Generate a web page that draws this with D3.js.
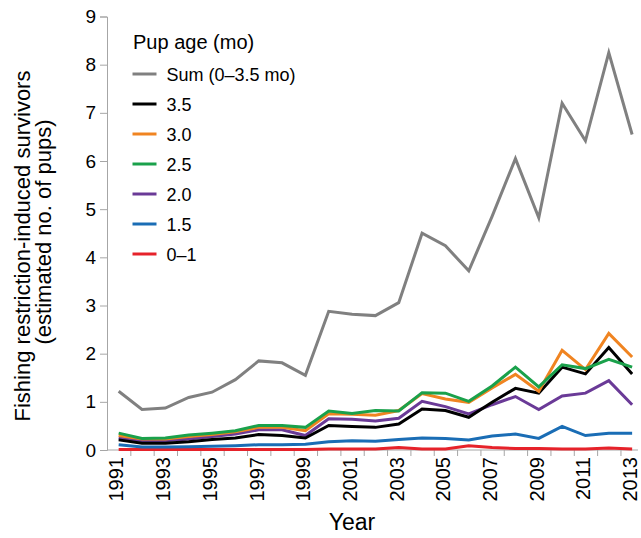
<!DOCTYPE html>
<html>
<head>
<meta charset="utf-8">
<script src="https://cdn.jsdelivr.net/npm/d3@7"></script>
<style>
  html, body { margin: 0; padding: 0; background: #fff; }
  svg { display: block; font-family: "Liberation Sans", Arial, Helvetica, sans-serif; }
</style>
</head>
<body>
<svg id="chart" width="641" height="538"></svg>
<script>
// Years on the x axis
const years = d3.range(1991, 2014);

// Estimated survivors per year, by pup age class
const sumAll  = [1.22, 0.84, 0.87, 1.09, 1.20, 1.46, 1.85, 1.81, 1.55, 2.88, 2.82, 2.79, 3.06, 4.50, 4.24, 3.72, 4.85, 6.05, 4.82, 7.20, 6.42, 8.25, 6.55];
const age35   = [0.21, 0.14, 0.14, 0.17, 0.22, 0.25, 0.32, 0.30, 0.25, 0.51, 0.49, 0.47, 0.54, 0.85, 0.82, 0.68, 0.99, 1.28, 1.18, 1.72, 1.58, 2.13, 1.58];
const age30   = [0.30, 0.23, 0.23, 0.28, 0.32, 0.38, 0.47, 0.47, 0.40, 0.75, 0.74, 0.72, 0.82, 1.17, 1.06, 0.99, 1.29, 1.57, 1.22, 2.07, 1.67, 2.42, 1.93];
const age25   = [0.35, 0.24, 0.25, 0.31, 0.35, 0.40, 0.51, 0.51, 0.47, 0.81, 0.76, 0.82, 0.81, 1.19, 1.18, 1.01, 1.33, 1.72, 1.31, 1.77, 1.69, 1.88, 1.72];
const age20   = [0.25, 0.19, 0.19, 0.23, 0.28, 0.33, 0.42, 0.42, 0.30, 0.65, 0.64, 0.60, 0.66, 1.01, 0.90, 0.75, 0.94, 1.11, 0.84, 1.12, 1.18, 1.44, 0.94];
const age15   = [0.11, 0.06, 0.06, 0.07, 0.08, 0.09, 0.11, 0.11, 0.12, 0.17, 0.19, 0.18, 0.22, 0.25, 0.24, 0.21, 0.29, 0.33, 0.24, 0.49, 0.30, 0.35, 0.35];
const age01   = [0.01, 0.01, 0.01, 0.01, 0.01, 0.01, 0.01, 0.01, 0.01, 0.02, 0.02, 0.02, 0.05, 0.02, 0.02, 0.09, 0.05, 0.03, 0.03, 0.02, 0.02, 0.04, 0.02];

// Axis ticks and labels
const yTicks = [0, 1, 2, 3, 4, 5, 6, 7, 8, 9];
const yearLabels = [1991, 1993, 1995, 1997, 1999, 2001, 2003, 2005, 2007, 2009, 2011, 2013];

// Legend entries (top to bottom) and their line colours
const seriesNames  = ["Sum (0\u20133.5 mo)", "3.5", "3.0", "2.5", "2.0", "1.5", "0\u20131"];
const seriesValues = [sumAll, age35, age30, age25, age20, age15, age01];
const seriesColors = ["#808080", "#000000", "#f08421", "#1aa14b", "#6a3a97", "#1a6db5", "#e6222a"];
// Drawing order of the lines (indexes into the arrays above)
const drawOrder = [0, 6, 5, 4, 1, 2, 3];

const svg = d3.select("#chart");
const axisColor = "#a6a6a6";

const x = d3.scaleLinear().domain([1990.5, 2013.5]).range([107, 643.8]);
const y = d3.scaleLinear().domain([0, 9]).range([450, 16.5]);

// Y axis
const yAxis = svg.append("g")
  .attr("transform", "translate(107,0)")
  .call(d3.axisLeft(y).tickValues(yTicks).tickSize(7).tickPadding(4).tickFormat(d3.format("d")));
yAxis.select(".domain").attr("stroke", axisColor).attr("stroke-width", 1);
yAxis.selectAll(".tick line").attr("stroke", axisColor);
yAxis.selectAll(".tick text")
  .attr("fill", "#000")
  .style("font-size", "19px")
  .style("font-family", "'Liberation Sans', Arial, sans-serif");

// X axis: ticks sit between years, labels at every other year
const xTickVals = d3.range(1991.5, 2013, 1);
const xAxis = svg.append("g")
  .attr("transform", "translate(0,450)")
  .call(d3.axisBottom(x).tickValues(xTickVals).tickSize(6).tickFormat(""));
xAxis.select(".domain").remove();
xAxis.selectAll(".tick line").attr("stroke", axisColor);
svg.append("line")
  .attr("x1", 107).attr("x2", x(2013.25))
  .attr("y1", 450).attr("y2", 450)
  .attr("stroke", axisColor).attr("stroke-width", 1);

svg.append("g").selectAll("text")
  .data(yearLabels)
  .join("text")
  .attr("transform", d => `translate(${x(d) + 4.8},457) rotate(-90)`)
  .attr("text-anchor", "end")
  .style("font-size", "20px")
  .attr("fill", "#000")
  .text(d => d);

// Axis titles
svg.append("text")
  .attr("transform", "translate(29.5,246) rotate(-90)")
  .attr("text-anchor", "middle")
  .style("font-size", "22px")
  .attr("fill", "#000")
  .text("Fishing restriction-induced survivors");
svg.append("text")
  .attr("transform", "translate(51,232) rotate(-90)")
  .attr("text-anchor", "middle")
  .style("font-size", "22px")
  .attr("fill", "#000")
  .text("(estimated no. of pups)");
svg.append("text")
  .attr("x", 352).attr("y", 530)
  .attr("text-anchor", "middle")
  .style("font-size", "23px")
  .attr("fill", "#000")
  .text("Year");

// Lines
const line = d3.line()
  .x((d, i) => x(years[i]))
  .y(d => y(d));

svg.append("g").selectAll("path")
  .data(drawOrder)
  .join("path")
  .attr("d", i => line(seriesValues[i]))
  .attr("fill", "none")
  .attr("stroke", i => seriesColors[i])
  .attr("stroke-width", 3)
  .attr("stroke-linejoin", "miter");

// Legend
const legend = svg.append("g");
legend.append("text")
  .attr("x", 133).attr("y", 49)
  .style("font-size", "20px")
  .attr("fill", "#000")
  .text("Pup age (mo)");
const rows = legend.selectAll("g.row")
  .data(seriesNames)
  .join("g")
  .attr("class", "row")
  .attr("transform", (d, i) => `translate(0,${74 + i * 30})`);
rows.append("line")
  .attr("x1", 132.5).attr("x2", 156.5)
  .attr("y1", 0).attr("y2", 0)
  .attr("stroke", (d, i) => seriesColors[i])
  .attr("stroke-width", 3);
rows.append("text")
  .attr("x", 166.5).attr("y", 6.5)
  .style("font-size", "18px")
  .attr("fill", "#000")
  .text(d => d);
</script>
</body>
</html>
